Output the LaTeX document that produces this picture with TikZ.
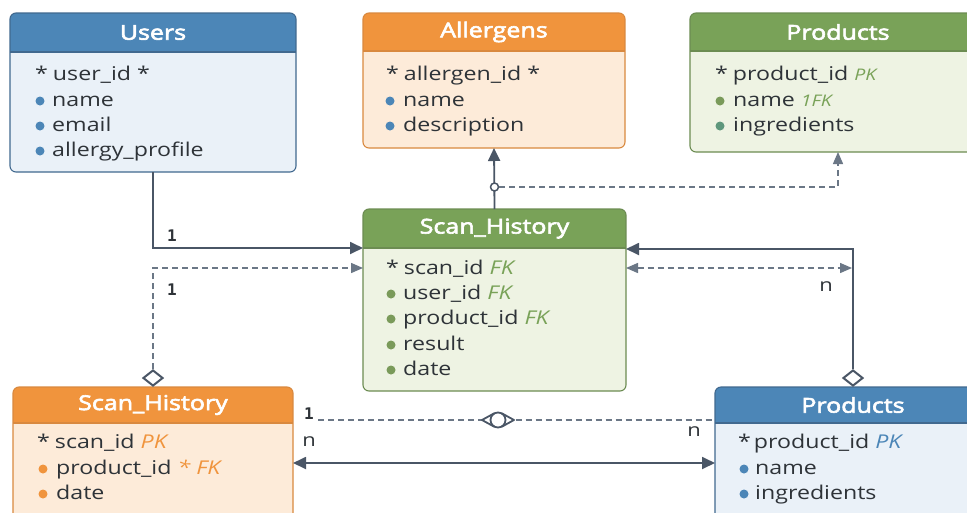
\documentclass[tikz,border=0pt]{standalone}
\usepackage{fontspec}
\setmainfont[FakeStretch=1.22]{Open Sans}
\newfontfamily\ttlfont[FakeStretch=1.22,FakeBold=3]{Open Sans}
\newfontfamily\labelfont{DejaVu Sans Mono}
\usetikzlibrary{arrows.meta,shapes.geometric}
\definecolor{bluehd}{HTML}{4C86B7}
\definecolor{bluebd}{HTML}{EAF1F8}
\definecolor{bluebr}{HTML}{41698F}
\definecolor{orangehd}{HTML}{F0943D}
\definecolor{orangebd}{HTML}{FDEBD9}
\definecolor{orangebr}{HTML}{D9893F}
\definecolor{greenhd}{HTML}{79A258}
\definecolor{greenbd}{HTML}{EEF3E3}
\definecolor{greenbr}{HTML}{6C8C52}
\definecolor{linec}{HTML}{4A5666}
\definecolor{dashc}{HTML}{6B7786}
\definecolor{txt}{HTML}{2E3338}
\definecolor{tealdot}{HTML}{5E977C}
\definecolor{greendot}{HTML}{7A9A5A}
\newcommand\erbox[8]{%
  \node[ent, fill=#7bd, minimum width={#4-#2}, minimum height={#5-#3}, anchor=north west] (#1) at (#2,#3) {};
  \begin{scope}
    \clip[rounded corners=6pt] (#1.north west) rectangle (#1.south east);
    \fill[#7hd] (#1.north west) rectangle ([yshift={-#6}]#1.north east);
  \end{scope}
  \draw[#7br, line width=1.1pt] ([yshift={-#6}]#1.north west) -- ([yshift={-#6}]#1.north east);
  \draw[#7br, line width=1.1pt, rounded corners=6pt] (#1.north west) rectangle (#1.south east);
  \node[ttl] (#1-t) at ([yshift={-0.5*#6}]#1.north) {#8};
}
\tikzset{
  ent/.style={rectangle, inner sep=0pt, outer sep=0pt, rounded corners=6pt},
  ttl/.style={text=white, font=\ttlfont\fontsize{20.5}{22}\selectfont, inner sep=0pt},
  row/.style={anchor=mid west, inner sep=0pt, text=txt, font=\fontsize{19}{21}\selectfont},
  dot/.style={circle, inner sep=0pt, minimum size=9pt, fill=#1},
  lbl/.style={text=txt, font=\labelfont\bfseries\fontsize{16}{18}\selectfont, inner sep=0pt},
  lbln/.style={text=txt, font=\fontsize{18}{20}\selectfont, inner sep=0pt},
  conn/.style={draw=linec, line width=1.8pt},
  dconn/.style={draw=dashc, line width=1.4pt, dash pattern=on 6pt off 4pt},
  tri/.tip={Triangle[length=13pt,width=12pt]},
  dtri/.tip={Triangle[length=12pt,width=10pt]},
  dmd/.style={diamond, draw=linec, line width=2pt, fill=white, inner sep=0pt, minimum width=20pt, minimum height=16pt},
}
\begin{document}
\begin{tikzpicture}[x=1pt,y=-1pt]
\useasboundingbox[fill=white] (0,0) rectangle (967,512);

\coordinate (rdash) at (852,268);
\coordinate (bstart) at (318,420);

% boxes
\erbox{users}{10}{13}{296}{172}{39}{blue}{Users}
\erbox{allerg}{363}{13}{625}{148}{38}{orange}{Allergens}
\erbox{ptop}{690}{13}{986}{152}{38}{green}{Products}
\erbox{scan}{363}{209}{626}{391}{39}{green}{Scan\_History}
\erbox{shl}{13}{387}{293}{525}{36}{orange}{Scan\_History}
\erbox{pb}{715}{387}{991}{525}{36}{blue}{Products}

% Users rows
\node[row] (u1) at (35,78) {*\hspace{5pt}user\_id *};
\node[dot=bluehd] (u2d) at (40,101) {}; \node[row] (u2) at (52,104) {name};
\node[dot=bluehd] (u3d) at (40,126) {}; \node[row] (u3) at (52,129) {email};
\node[dot=bluehd] (u4d) at (40,151) {}; \node[row] (u4) at (52,154) {allergy\_profile};

% Allergens rows
\node[row] (a1) at (386,78) {*\hspace{5pt}allergen\_id *};
\node[dot=bluehd] (a2d) at (390,101) {}; \node[row] (a2) at (403,104) {name};
\node[dot=bluehd] (a3d) at (390,126) {}; \node[row] (a3) at (403,129) {description};

% Products (top) rows
\node[row] (p1) at (715,78) {*\hspace{5pt}product\_id {\color{greenhd}\itshape\fontsize{16}{18}\selectfont PK}};
\node[dot=greendot] (p2d) at (720,101) {}; \node[row] (p2) at (733,104) {name {\color{greenhd}\itshape\fontsize{16}{18}\selectfont 1FK}};
\node[dot=tealdot] (p3d) at (720,126) {}; \node[row] (p3) at (733,129) {ingredients};

% Scan_History (centre) rows
\node[row] (s1) at (386,272) {*\hspace{5pt}scan\_id {\color{greenhd}\itshape FK}};
\node[dot=greendot] (s2d) at (391,294) {}; \node[row] (s2) at (403,297) {user\_id {\color{greenhd}\itshape FK}};
\node[dot=greendot] (s3d) at (391,319) {}; \node[row] (s3) at (403,322) {product\_id {\color{greenhd}\itshape FK}};
\node[dot=greendot] (s4d) at (391,345) {}; \node[row] (s4) at (403,348) {result};
\node[dot=greendot] (s5d) at (391,370) {}; \node[row] (s5) at (403,373) {date};

% Scan_History (bottom left) rows
\node[row] (h1) at (37,446) {*\hspace{5pt}scan\_id {\color{orangehd}\itshape PK}};
\node[dot=orangehd] (h2d) at (43,469) {}; \node[row] (h2) at (56,472) {product\_id {\color{orangehd}\itshape * FK}};
\node[dot=orangehd] (h3d) at (43,494) {}; \node[row] (h3) at (56,497) {date};

% Products (bottom right) rows
\node[row] (q1) at (738,446) {*\hspace{3pt}product\_id {\color{bluehd}\itshape PK}};
\node[dot=bluehd] (q2d) at (744,469) {}; \node[row] (q2) at (755,472) {name};
\node[dot=bluehd] (q3d) at (744,494) {}; \node[row] (q3) at (755,497) {ingredients};

% connectors
\draw[conn, -tri] (users.south) |- ([yshift=-39pt]scan.north west);
\node[dmd, anchor=south] (dl) at (shl.north) {};
\draw[dconn, -dtri] (dl.north) |- ([yshift=-59pt]scan.north west);
\node[dmd, anchor=south] (dr) at (pb.north) {};
\draw[conn, tri-] ([yshift=-40pt]scan.north east) -| (dr.north);
\draw[dconn, dtri-dtri] ([yshift=-59pt]scan.north east) -- (rdash);
\draw[conn, -tri] (scan.north) -- (allerg.south);
\node[circle, draw=linec, line width=1.5pt, fill=white, inner sep=0pt, minimum size=8pt] (oc) at (494.5,187) {};
\draw[dconn, -dtri] (oc.east) -| (ptop.south);
\node[circle, inner sep=0pt, minimum size=15pt] (eye) at (498,420) {};
\draw[dconn] (bstart) -- (eye.west);
\draw[dconn] (eye.east) -- ([yshift=-33pt]pb.north west);
\fill[white] (482,420) -- (eye.118) -- (eye.62) -- (514,420) -- (eye.-62) -- (eye.-118) -- cycle;
\fill[white] (eye) circle[radius=7.5pt];
\draw[linec, line width=1.8pt, line join=round] (eye.118) -- (482,420) -- (eye.-118);
\draw[linec, line width=1.8pt, line join=round] (eye.62) -- (514,420) -- (eye.-62);
\draw[linec, line width=1.8pt] (eye) circle[radius=7.5pt];
\draw[conn, tri-tri] ([yshift=-76pt]shl.north east) -- ([yshift=-76pt]pb.north west);

% labels
\node[lbl] (l1) at (172,236) {1};
\node[lbl] (l2) at (172,290) {1};
\node[lbln] (l3) at (826,287) {n};
\node[lbl] (l4) at (309,414) {1};
\node[lbln] (l5) at (309,442) {n};
\node[lbln] (l6) at (694,432) {n};
\end{tikzpicture}
\end{document}
